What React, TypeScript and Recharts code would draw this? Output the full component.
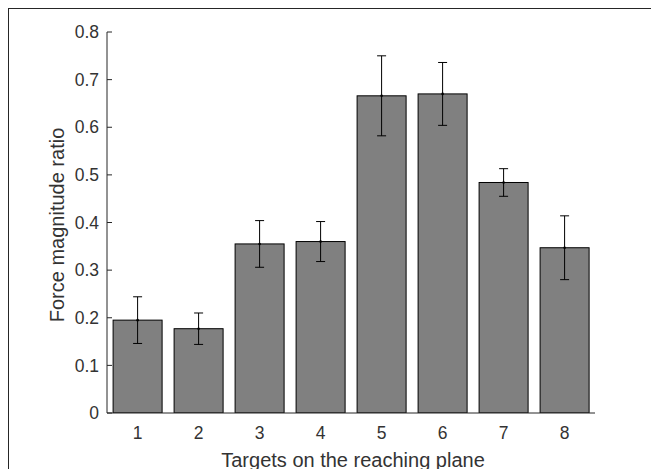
import React from 'react';
import { BarChart, Bar, XAxis, YAxis, ErrorBar } from 'recharts';

const categories = ['1', '2', '3', '4', '5', '6', '7', '8'];
const means = [0.195, 0.177, 0.355, 0.36, 0.666, 0.67, 0.484, 0.347];
const errors = [0.049, 0.033, 0.049, 0.042, 0.084, 0.066, 0.029, 0.067];
const yTicks = [0, 0.1, 0.2, 0.3, 0.4, 0.5, 0.6, 0.7, 0.8];

const xLabel = 'Targets on the reaching plane';
const yLabel = 'Force magnitude ratio';

const data = categories.map((c, i) => ({ target: c, value: means[i], err: errors[i] }));

const FONT = '"Liberation Sans", Arial, Helvetica, sans-serif';
const AX = '#262626';
const TXT = '#333333';

const BarShape = (props: any) => {
  const { x, y, width, height } = props;
  return (
    <g>
      <rect x={x} y={y} width={width} height={height} fill="#808080" stroke="#000" strokeWidth={1} />
      <circle cx={x + width / 2} cy={y} r={1.3} fill="#000" />
    </g>
  );
};

const YLabel = (props: any) => {
  const vb = props.viewBox || {};
  const cx = 55;
  const cy = vb.y + vb.height / 2 + 2.5;
  return (
    <text
      x={cx}
      y={cy}
      transform={`rotate(-90, ${cx}, ${cy})`}
      textAnchor="middle"
      fill={TXT}
      fontSize={20}
      fontFamily={FONT}
    >
      {yLabel}
    </text>
  );
};

const XLabel = (props: any) => {
  const vb = props.viewBox || {};
  const cx = vb.x + vb.width / 2 + 2;
  const cy = vb.y + 53.5;
  return (
    <text x={cx} y={cy} textAnchor="middle" fill={TXT} fontSize={20} fontFamily={FONT}>
      {xLabel}
    </text>
  );
};

export default function App() {
  return (
    <div
      style={{
        width: 650,
        height: 460,
        borderLeft: '1px solid #262626',
        borderTop: '1px solid #262626',
        background: '#fff',
      }}
    >
      <BarChart
        width={650}
        height={460}
        data={data}
        margin={{ top: 23, right: 64, bottom: 6, left: 0 }}
        barCategoryGap="10%"
      >
        <XAxis
          dataKey="target"
          height={50}
          stroke={AX}
          tickLine={false}
          tickSize={0}
          tickMargin={14}
          tick={{ fill: TXT, fontSize: 17.5, fontFamily: FONT }}
          label={{ content: XLabel } as any}
        />
        <YAxis
          width={98}
          domain={[0, 0.8]}
          ticks={yTicks}
          type="number"
          stroke={AX}
          tickSize={-5}
          tickMargin={13}
          tick={{ fill: TXT, fontSize: 17.5, fontFamily: FONT }}
          tickFormatter={(v: number) => (v === 0 ? '0' : v.toFixed(1))}
          label={{ content: YLabel } as any}
          allowDataOverflow
        />
        <Bar dataKey="value" isAnimationActive={false} shape={BarShape}>
          <ErrorBar dataKey="err" width={4.5} stroke="#000" strokeWidth={1} isAnimationActive={false} />
        </Bar>
      </BarChart>
    </div>
  );
}
